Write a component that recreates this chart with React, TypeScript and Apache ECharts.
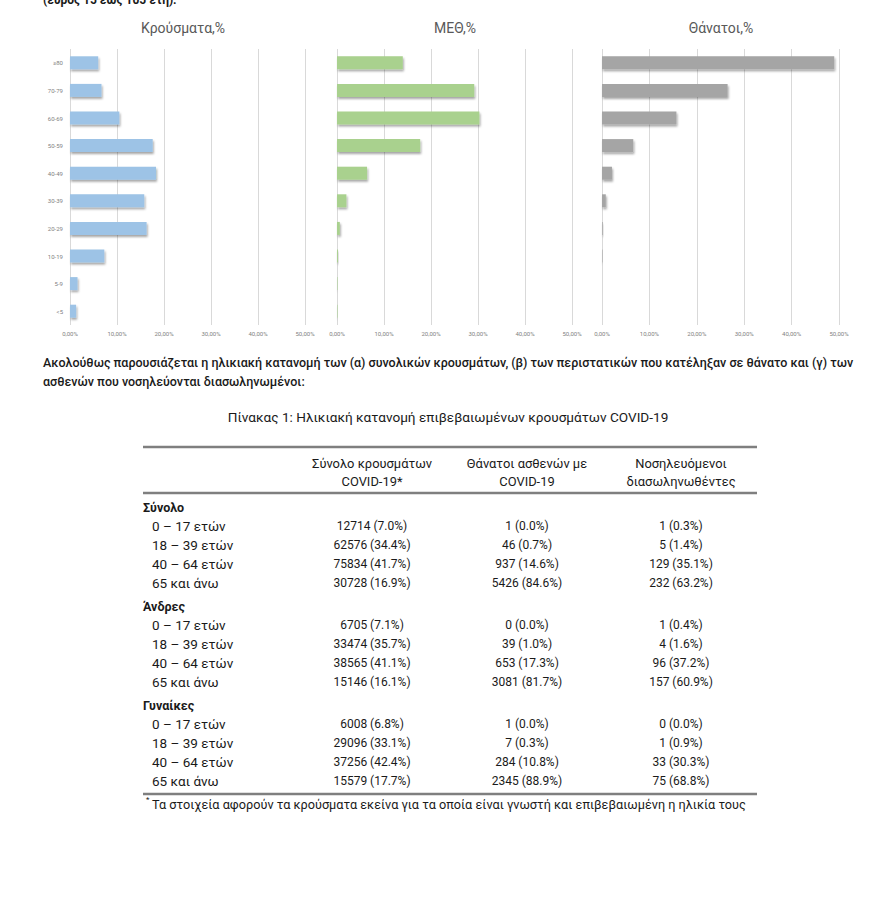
import React, { useEffect, useRef } from 'react';
import * as echarts from 'echarts';

// ---- chart data ----
const ageBands = ['≥80', '70-79', '60-69', '50-59', '40-49', '30-39', '20-29', '10-19', '5-9', '<5'];
const casesShare = [6.0, 6.7, 10.5, 17.6, 18.3, 15.8, 16.3, 7.3, 1.6, 1.3];
const icuShare = [14.0, 29.2, 30.3, 17.7, 6.4, 2.0, 0.6, 0.2, 0.1, 0.1];
const deathsShare = [49.0, 26.5, 15.7, 6.6, 2.1, 0.8, 0.15, 0.1, 0, 0];
const panelTitles = ['Κρούσματα,%', 'ΜΕΘ,%', 'Θάνατοι,%'];
const panelColors = ['#9DC3E6', '#A9D18E', '#A5A5A5'];
const axisMax = 50;
const axisStep = 10;

// ---- table data ----
const tableGroups = ['Σύνολο', 'Άνδρες', 'Γυναίκες'];
const tableAges = ['0 – 17 ετών', '18 – 39 ετών', '40 – 64 ετών', '65 και άνω'];
const tableHeaders = [
  ['Σύνολο κρουσμάτων', 'COVID-19*'],
  ['Θάνατοι ασθενών με', 'COVID-19'],
  ['Νοσηλευόμενοι', 'διασωληνωθέντες'],
];
const cases = [
  [12714, 62576, 75834, 30728],
  [6705, 33474, 38565, 15146],
  [6008, 29096, 37256, 15579],
];
const casesPct = [
  [7.0, 34.4, 41.7, 16.9],
  [7.1, 35.7, 41.1, 16.1],
  [6.8, 33.1, 42.4, 17.7],
];
const deaths = [
  [1, 46, 937, 5426],
  [0, 39, 653, 3081],
  [1, 7, 284, 2345],
];
const deathsPct = [
  [0.0, 0.7, 14.6, 84.6],
  [0.0, 1.0, 17.3, 81.7],
  [0.0, 0.3, 10.8, 88.9],
];
const intubated = [
  [1, 5, 129, 232],
  [1, 4, 96, 157],
  [0, 1, 33, 75],
];
const intubatedPct = [
  [0.3, 1.4, 35.1, 63.2],
  [0.4, 1.6, 37.2, 60.9],
  [0.0, 0.9, 30.3, 68.8],
];

const topLine = '(εύρος 15 έως 105 έτη).';
const paragraph1 =
  'Ακολούθως παρουσιάζεται η ηλικιακή κατανομή των (α) συνολικών κρουσμάτων, (β) των περιστατικών που κατέληξαν σε θάνατο και (γ) των';
const paragraph2 = 'ασθενών που νοσηλεύονται διασωληνωμένοι:';
const tableTitle = 'Πίνακας 1: Ηλικιακή κατανομή επιβεβαιωμένων κρουσμάτων COVID-19';
const footnote =
  'Τα στοιχεία αφορούν τα κρούσματα εκείνα για τα οποία είναι γνωστή και επιβεβαιωμένη η ηλικία τους';

const FONT = 'Roboto, "Noto Sans", sans-serif';

function txt(
  text: string,
  x: number,
  y: number,
  opts: { size?: number; weight?: any; color?: string; align?: string } = {}
) {
  const align = opts.align || 'left';
  return {
    type: 'text',
    silent: true,
    style: {
      text,
      x,
      y,
      fill: opts.color || '#1a1a1a',
      fontSize: opts.size || 12,
      fontFamily: FONT,
      fontWeight: opts.weight || 'normal',
      align,
      textAlign: align,
      verticalAlign: 'middle',
      textVerticalAlign: 'middle',
    },
  };
}

export default function App() {
  const ref = useRef<HTMLDivElement>(null);

  useEffect(() => {
    if (!ref.current) return;
    const chart = echarts.init(ref.current, null, { renderer: 'svg' });

    const panels = [
      { left: 70, width: 235, titleX: 183 },
      { left: 337, width: 235, titleX: 455 },
      { left: 602, width: 237, titleX: 721 },
    ];
    const shares = [casesShare, icuShare, deathsShare];

    const grids = panels.map((p) => ({ left: p.left, width: p.width, top: 49, height: 276 }));
    const xAxes = panels.map((_, i) => ({
      type: 'value',
      gridIndex: i,
      min: 0,
      max: axisMax,
      interval: axisStep,
      axisLine: { show: false },
      axisTick: { show: false },
      splitLine: { show: true, lineStyle: { color: '#D9D9D9', width: 1 } },
      axisLabel: {
        fontSize: 6,
        color: '#7F7F7F',
        margin: 5,
        fontFamily: FONT,
        formatter: (v: number) => v.toFixed(2).replace('.', ',') + '%',
      },
    }));
    const yAxes = panels.map((_, i) => ({
      type: 'category',
      gridIndex: i,
      inverse: true,
      data: ageBands,
      axisLine: { show: false },
      axisTick: { show: false },
      splitLine: { show: false },
      axisLabel: { show: i === 0, fontSize: 6, color: '#7F7F7F', margin: 7, fontFamily: FONT },
    }));
    const series = panels.map((_, i) => ({
      type: 'bar',
      xAxisIndex: i,
      yAxisIndex: i,
      data: shares[i],
      barWidth: 13,
      itemStyle: {
        color: panelColors[i],
        shadowColor: 'rgba(0,0,0,0.35)',
        shadowBlur: 2,
        shadowOffsetX: 1,
        shadowOffsetY: 2,
      },
    }));

    const graphics: any[] = [];
    graphics.push(txt(topLine, 43, 0, { size: 12, weight: 'bold', color: '#1a1a1a' }));
    panels.forEach((p, i) => {
      graphics.push(txt(panelTitles[i], p.titleX, 28, { size: 14, color: '#595959', align: 'center' }));
    });
    graphics.push(txt(paragraph1, 43, 362, { size: 12.5, weight: 500 }));
    graphics.push(txt(paragraph2, 43, 381, { size: 12.5, weight: 500 }));
    graphics.push(txt(tableTitle, 448, 417, { size: 13.6, align: 'center' }));

    const ruleStyle = { stroke: '#7F7F7F', lineWidth: 2.5 };
    const tL = 143;
    const tR = 757;
    [447, 493, 794].forEach((y) => {
      graphics.push({ type: 'line', silent: true, shape: { x1: tL, y1: y, x2: tR, y2: y }, style: ruleStyle });
    });

    const colX = [372, 527, 681];
    tableHeaders.forEach((h, c) => {
      graphics.push(txt(h[0], colX[c], 463, { size: 12.9, align: 'center' }));
      graphics.push(txt(h[1], colX[c], 481, { size: 12.9, align: 'center' }));
    });

    const fmt = (n: number, p: number) => `${n} (${p.toFixed(1)}%)`;
    tableGroups.forEach((g, gi) => {
      const gy = 507 + gi * 99;
      graphics.push(txt(g, 143, gy, { size: 12.5, weight: 'bold' }));
      tableAges.forEach((a, ri) => {
        const y = gy + 19 * (ri + 1);
        graphics.push(txt(a, 152, y, { size: 13.5 }));
        graphics.push(txt(fmt(cases[gi][ri], casesPct[gi][ri]), colX[0], y, { size: 12, align: 'center' }));
        graphics.push(txt(fmt(deaths[gi][ri], deathsPct[gi][ri]), colX[1], y, { size: 12, align: 'center' }));
        graphics.push(
          txt(fmt(intubated[gi][ri], intubatedPct[gi][ri]), colX[2], y, { size: 12, align: 'center' })
        );
      });
    });

    graphics.push(txt('*', 146, 799, { size: 8 }));
    graphics.push(txt(footnote, 152, 804, { size: 12.7 }));

    chart.setOption({
      animation: false,
      backgroundColor: '#ffffff',
      grid: grids,
      xAxis: xAxes,
      yAxis: yAxes,
      series,
      graphic: { elements: graphics },
    });

    return () => chart.dispose();
  }, []);

  return (
    <div
      ref={ref}
      style={{ position: 'absolute', left: 0, top: 0, width: 880, height: 905, background: '#fff' }}
    />
  );
}
